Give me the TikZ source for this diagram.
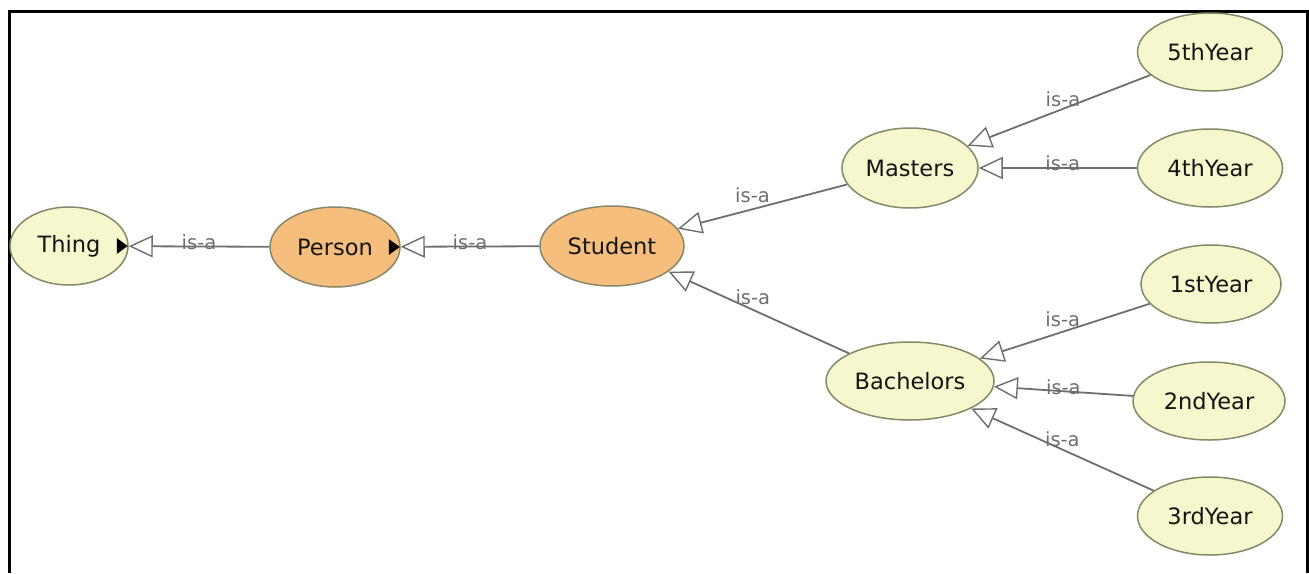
\documentclass[tikz,border=0pt]{standalone}
\usepackage{fontspec}
\setmainfont{DejaVu Sans}
\usetikzlibrary{shapes.geometric,arrows.meta}
\definecolor{cyellow}{RGB}{247,247,206}
\definecolor{corange}{RGB}{246,190,124}
\definecolor{cborder}{RGB}{135,135,105}
\definecolor{cedge}{RGB}{110,110,110}
\definecolor{clabel}{RGB}{110,110,110}
\definecolor{ctext}{RGB}{20,20,20}
\begin{document}
\begin{tikzpicture}[x=1pt,y=-1pt,
  cls/.style={ellipse, draw=cborder, line width=1.5pt, fill=cyellow,
    minimum width=145pt, minimum height=78pt, inner sep=0pt, text=ctext,
    font=\fontsize{22.5}{26}\selectfont},
  hl/.style={cls, fill=corange},
  isa/.style={draw=cedge, line width=1.8pt,
    -{Triangle[open, fill=white, length=24pt, width=22pt, line width=1.4pt]}},
  lbl/.style={text=clabel, font=\fontsize{19.5}{22}\selectfont, inner sep=0pt},
  marker/.style={fill=black}]
\useasboundingbox (0,0) rectangle (1309,573);
\draw[line width=3pt] (9,573) -- (9,11) -- (1307,11) -- (1307,573);

\node[cls, minimum width=118pt] (thing) at (69,246) {Thing};
\node[hl, minimum width=130pt, minimum height=80pt] (person) at (335,247) {Person};
\node[hl, minimum width=144pt, minimum height=80pt] (student) at (612,246) {Student};
\node[cls, minimum width=136pt, minimum height=80pt] (masters) at (910,168) {Masters};
\node[cls, minimum width=168pt] (bachelors) at (910,381) {Bachelors};
\node[cls] (y5) at (1210,52) {5thYear};
\node[cls] (y4) at (1210,168) {4thYear};
\node[cls, minimum width=140pt] (y1) at (1211,284) {1stYear};
\node[cls, minimum width=152pt] (y2) at (1209,401) {2ndYear};
\node[cls] (y3) at (1210,516) {3rdYear};

\fill[marker] ([xshift=-1pt]thing.east) -- ++(-11,-8) -- ++(0,16) -- cycle;
\fill[marker] ([xshift=-1pt]person.east) -- ++(-11,-8) -- ++(0,16) -- cycle;

\draw[isa] (person) -- node[lbl, yshift=4pt] {is-a} (thing);
\draw[isa] (student) -- node[lbl, yshift=4pt] {is-a} (person);
\draw[isa] (masters) -- node[lbl, xshift=-10pt, yshift=11pt] {is-a} (student);
\draw[isa] (bachelors) -- node[lbl, xshift=-6pt, yshift=15pt] {is-a} (student);
\draw[isa] (y5) -- node[lbl, xshift=4pt, yshift=11pt] {is-a} (masters);
\draw[isa] (y4) -- node[lbl, xshift=5pt, yshift=5pt] {is-a} (masters);
\draw[isa] (y1) -- node[lbl, xshift=-2pt, yshift=12pt] {is-a} (bachelors);
\draw[isa] (y2) -- node[lbl, yshift=4pt] {is-a} (bachelors);
\draw[isa] (y3) -- node[lbl, yshift=10pt] {is-a} (bachelors);
\end{tikzpicture}
\end{document}
